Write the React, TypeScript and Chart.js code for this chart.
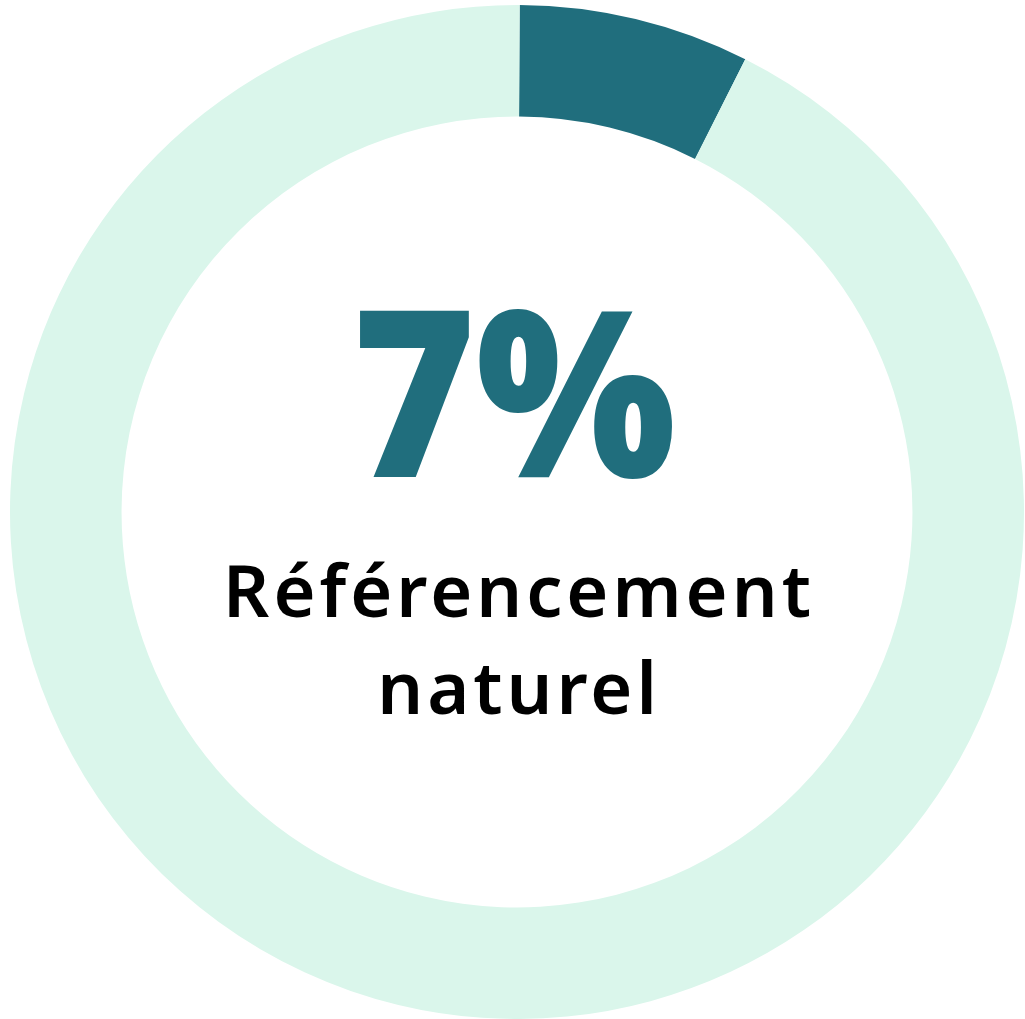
import React, { useEffect, useRef } from "react";
import { Chart, registerables } from "chart.js";

Chart.register(...registerables);

const categories = ["Référencement naturel", "Autres"];
const values = [7.35, 92.65];
const colors = ["#206e7d", "#daf6eb"];
const bigLabel = "7%";
const captionLines = ["Référencement", "naturel"];

const centerText = {
  id: "centerText",
  afterDraw(chart: any) {
    const ctx = chart.ctx as any;
    const meta = chart.getDatasetMeta(0);
    const arc = meta.data[0];
    const cx = arc.x;
    const cy = arc.y;
    ctx.save();
    ctx.textAlign = "center";
    ctx.textBaseline = "alphabetic";
    ctx.fillStyle = colors[0];
    ctx.font = "800 232px 'Open Sans'";
    ctx.translate(cx - 3, cy - 35);
    ctx.scale(0.91, 1);
    ctx.fillText(bigLabel, 0, 0);
    ctx.restore();
    ctx.save();
    ctx.textAlign = "center";
    ctx.textBaseline = "alphabetic";
    ctx.fillStyle = "#000000";
    ctx.font = "600 72px 'Noto Sans'";
    ctx.letterSpacing = "4px";
    ctx.fillText(captionLines[0], cx + 2, cy + 105);
    ctx.fillText(captionLines[1], cx + 2, cy + 202);
    ctx.restore();
  },
};

export default function App() {
  const ref = useRef<HTMLCanvasElement | null>(null);
  useEffect(() => {
    if (!ref.current) return;
    const chart = new Chart(ref.current, {
      type: "doughnut",
      data: {
        labels: categories,
        datasets: [
          {
            data: values,
            backgroundColor: colors,
            borderWidth: 0,
            hoverOffset: 0,
          },
        ],
      },
      options: {
        responsive: false,
        animation: false,
        cutout: "78%",
        rotation: 0.3,
        layout: { padding: { left: 9, top: 5, right: 0, bottom: 0 } },
        plugins: {
          legend: { display: false },
          tooltip: { enabled: false },
        },
      },
      plugins: [centerText],
    });
    return () => chart.destroy();
  }, []);
  return (
    <div style={{ position: "fixed", left: 0, top: 0, width: 1025, height: 1019, background: "#ffffff" }}>
      <canvas ref={ref} width={1025} height={1019} style={{ display: "block" }} />
    </div>
  );
}
